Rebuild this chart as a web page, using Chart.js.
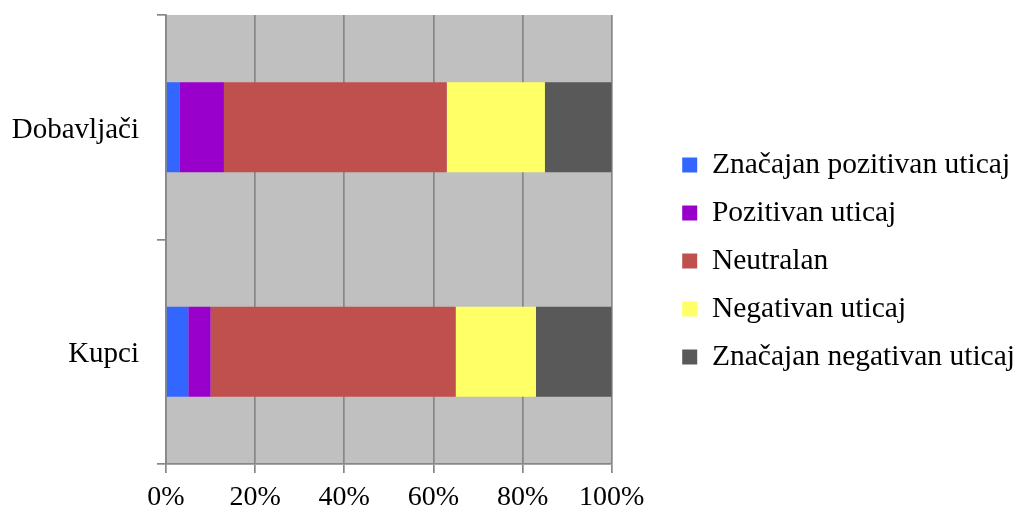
<!DOCTYPE html>
<html>
<head>
<meta charset="utf-8">
<script src="https://cdn.jsdelivr.net/npm/chart.js@4/dist/chart.umd.min.js"></script>
<style>
  html, body { margin: 0; padding: 0; background: #fff; }
  #wrap { width: 1019px; height: 511px; }
</style>
</head>
<body>
<div id="wrap"><canvas id="uticajChart"></canvas></div>
<script>
// kategorije i procenti (citano sa slike)
const categories = ['Dobavljači', 'Kupci'];
const seriesNames = ['Značajan pozitivan uticaj', 'Pozitivan uticaj', 'Neutralan', 'Negativan uticaj', 'Značajan negativan uticaj'];
const znacajanPozitivan = [3, 5];
const pozitivan = [10, 5];
const neutralan = [50, 55];
const negativan = [22, 18];
const znacajanNegativan = [15, 17];
const xTicks = [0, 20, 40, 60, 80, 100];

const colors = ['#3366FF', '#9900CC', '#C0504D', '#FFFF66', '#595959'];
const values = [znacajanPozitivan, pozitivan, neutralan, negativan, znacajanNegativan];

const gridColor = '#878787';
const fontFamily = '"Liberation Serif", "Times New Roman", serif';

const plotBackground = {
  id: 'plotBackground',
  beforeDraw(chart)
  {
    const {ctx, chartArea} = chart;
    ctx.save();
    ctx.fillStyle = '#C0C0C0';
    ctx.fillRect(chartArea.left, chartArea.top, chartArea.right - chartArea.left, chartArea.bottom - chartArea.top);
    ctx.restore();
  }
};

// legenda: veci razmak od grafika, stavke pomerene udesno
const legendGap = {
  id: 'legendGap',
  beforeLayout(chart)
  {
    const legend = chart.legend;
    if (!legend || legend._gapPatched) return;
    const fit = legend.fit;
    legend.fit = function()
    {
      fit.call(this);
      this.width += 46;
    };
    legend._gapPatched = true;
  },
  afterLayout(chart)
  {
    const legend = chart.legend;
    legend.left += 52;
    legend.top -= 2;
    legend.bottom -= 2;
  }
};

const chartData =
{
  labels: categories,
  datasets: seriesNames.map((name, i) => ({
    label: name,
    data: values[i],
    backgroundColor: colors[i],
    borderWidth: 0,
    barPercentage: 0.4,
    categoryPercentage: 1.0
  }))
};

const config =
{
  type: 'bar',
  data: chartData,
  options:
  {
    indexAxis: 'y',
    responsive: true,
    maintainAspectRatio: false,
    animation: false,
    layout: { padding: { left: 10, top: 15, right: 0, bottom: 0 } },
    scales:
    {
      x:
      {
        stacked: true,
        min: 0,
        max: 100,
        afterBuildTicks: (scale) => { scale.ticks = xTicks.map(v => ({ value: v })); },
        afterFit: (scale) => { scale.height = 47; },
        ticks:
        {
          color: '#000',
          padding: 8,
          font: { family: fontFamily, size: 28 },
          callback: (v) => v + '%'
        },
        grid: { color: gridColor, lineWidth: 1.7, tickLength: 9 },
        border: { color: gridColor, width: 1.7 }
      },
      y:
      {
        stacked: true,
        afterFit: (scale) => { scale.width = 156; scale.paddingTop = 0; scale.paddingBottom = 0; },
        ticks:
        {
          color: '#000',
          padding: 18,
          labelOffset: 3,
          font: { family: fontFamily, size: 29 }
        },
        grid: { drawOnChartArea: false, color: gridColor, lineWidth: 1.7, tickLength: 9, offset: true },
        border: { color: gridColor, width: 1.7 }
      }
    },
    plugins:
    {
      legend:
      {
        position: 'right',
        maxWidth: 500,
        labels:
        {
          boxWidth: 15,
          boxHeight: 15,
          padding: 18.5,
          color: '#000',
          font: { family: fontFamily, size: 29.5 }
        }
      },
      tooltip: { enabled: false }
    }
  },
  plugins: [plotBackground, legendGap]
};

const uticajChart = new Chart(document.getElementById('uticajChart'), config);
</script>
</body>
</html>
